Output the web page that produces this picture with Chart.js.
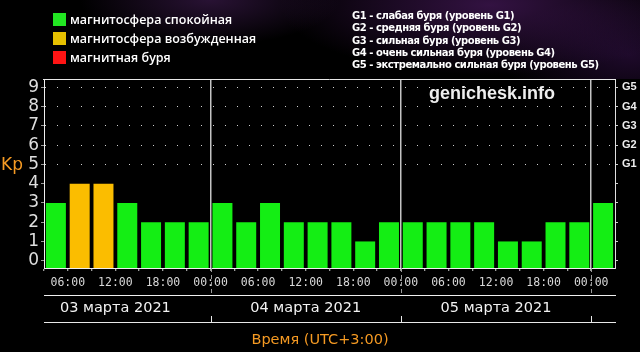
<!DOCTYPE html>
<html lang="ru">
<head>
  <meta charset="UTF-8">
  <title>Индекс Kp</title>
  <script src="https://cdn.jsdelivr.net/npm/chart.js"></script>
  <style>
    body { margin: 0; background: #000; }
    #box { position: relative; width: 640px; height: 352px; background: #000; overflow: hidden; }
    #sky {
      position: absolute; left: 0; top: 0; width: 640px; height: 79px;
      background:
        radial-gradient(ellipse 130px 45px at 210px 0px, rgba(90, 40, 115, 0.45), transparent),
        radial-gradient(ellipse 210px 70px at 490px 5px, rgba(85, 30, 110, 0.6), transparent),
        radial-gradient(ellipse 130px 60px at 630px 55px, rgba(60, 20, 85, 0.5), transparent);
    }
    canvas { position: absolute; left: 0; top: 0; }
    .item { position: absolute; left: 53px; font: 600 12.5px "Open Sans", sans-serif; color: #fff; line-height: 13px; white-space: nowrap; }
    .item span { display: inline-block; width: 13px; height: 13px; vertical-align: top; margin-right: 4px; }
    #levels { position: absolute; left: 352px; top: 10px; font: bold 10px "DejaVu Sans", sans-serif; letter-spacing: -0.45px; line-height: 12.25px; color: #fff; white-space: nowrap; }
    #mark { position: absolute; left: 429px; top: 83px; font: bold 18px "Liberation Sans", sans-serif; color: #eee; }
  </style>
</head>
<body>
<div id="box">
  <div id="sky"></div>
  <canvas id="kp" width="640" height="352"></canvas>
  <div id="legend"></div>
  <div id="levels"></div>
  <div id="mark">genichesk.info</div>
</div>

<script>
  // 3-hour periods, 03.03.2021 03:00 .. 06.03.2021 00:00 (UTC+3)
  const periods = [
    '03.03 03:00', '03.03 06:00', '03.03 09:00', '03.03 12:00', '03.03 15:00', '03.03 18:00', '03.03 21:00',
    '04.03 00:00', '04.03 03:00', '04.03 06:00', '04.03 09:00', '04.03 12:00', '04.03 15:00', '04.03 18:00', '04.03 21:00',
    '05.03 00:00', '05.03 03:00', '05.03 06:00', '05.03 09:00', '05.03 12:00', '05.03 15:00', '05.03 18:00', '05.03 21:00',
    '06.03 00:00'
  ];
  const kp = [3, 4, 4, 3, 2, 2, 2, 3, 2, 3, 2, 2, 2, 1, 2, 2, 2, 2, 2, 1, 1, 2, 2, 3];

  // hours counted from 03.03 00:00
  const markHours = [3, 6, 9, 12, 15, 18, 21, 24, 27, 30, 33, 36, 39, 42, 45, 48, 51, 54, 57, 60, 63, 66, 69, 72];
  const labelHours = [6, 12, 18, 24, 30, 36, 42, 48, 54, 60, 66, 72];
  const timeLabels = ['06:00', '12:00', '18:00', '00:00', '06:00', '12:00', '18:00', '00:00', '06:00', '12:00', '18:00', '00:00'];
  const dayCenters = [12, 36, 60];
  const dayBounds = [24, 48, 72];
  const dayLabels = ['03 марта 2021', '04 марта 2021', '05 марта 2021'];

  const kpTicks = [0, 1, 2, 3, 4, 5, 6, 7, 8, 9];
  const gLabels = ['G1', 'G2', 'G3', 'G4', 'G5'];

  const legendNames = ['магнитосфера спокойная', 'магнитосфера возбужденная', 'магнитная буря'];
  const legendColors = ['#22e622', '#e6c000', '#ff1414'];
  const levelNames = [
    'G1 - слабая буря (уровень G1)',
    'G2 - средняя буря (уровень G2)',
    'G3 - сильная буря (уровень G3)',
    'G4 - очень сильная буря (уровень G4)',
    'G5 - экстремально сильная буря (уровень G5)'
  ];
  const axisTitle = 'Время (UTC+3:00)';
  const kpTitle = 'Kp';

  const yMin = -0.38, yMax = 9.44;

  // html legend
  const legendBox = document.getElementById('legend');
  legendNames.forEach((name, i) => {
    const d = document.createElement('div');
    d.className = 'item';
    d.style.top = (13 + i * 19) + 'px';
    d.innerHTML = '<span style="background:' + legendColors[i] + '"></span>' + name;
    legendBox.appendChild(d);
  });
  document.getElementById('levels').innerHTML = levelNames.join('<br>');

  function barColor(v) {
    if (v >= 5) return '#ff1414';
    if (v >= 4) return '#fbbd00';
    return '#14ee14';
  }

  const frame = {
    id: 'frame',
    afterDraw(chart) {
      const { ctx, chartArea: a } = chart;
      const hx = chart.scales.hours;
      const days = chart.scales.days;
      const low = days.top + 27;
      ctx.save();
      ctx.lineWidth = 1;
      ctx.strokeStyle = '#e8e8e8';
      ctx.beginPath();
      ctx.moveTo(a.left - 1, a.top + 0.5);
      ctx.lineTo(a.right + 1, a.top + 0.5);
      ctx.moveTo(a.left, low + 0.5);
      ctx.lineTo(a.right + 1, low + 0.5);
      dayBounds.forEach(h => {
        const x = Math.round(hx.getPixelForValue(h)) + 0.5;
        ctx.moveTo(x, low);
        ctx.lineTo(x, low - 6);
      });
      ctx.stroke();

      ctx.setLineDash([4, 3]);
      ctx.strokeStyle = '#9a9a9a';
      ctx.beginPath();
      dayBounds.forEach(h => {
        const x = Math.round(hx.getPixelForValue(h)) + 0.5;
        ctx.moveTo(x, a.bottom);
        ctx.lineTo(x, days.top);
      });
      ctx.stroke();
      ctx.setLineDash([]);

      ctx.fillStyle = '#f59a23';
      ctx.textAlign = 'center';
      ctx.textBaseline = 'middle';
      ctx.font = '14.5px "DejaVu Sans"';
      ctx.fillText(axisTitle, 320, 340);
      ctx.font = '17px "DejaVu Sans"';
      ctx.fillText(kpTitle, 12, 166);
      ctx.restore();
    }
  };

  new Chart(document.getElementById('kp'), {
    type: 'bar',
    data: {
      labels: periods,
      datasets: [{
        data: kp,
        base: yMin,
        backgroundColor: kp.map(barColor),
        borderWidth: 0,
        barPercentage: 0.84,
        categoryPercentage: 1
      }]
    },
    options: {
      responsive: false,
      animation: false,
      layout: { padding: { top: 79, left: 0, right: 0, bottom: 0 } },
      plugins: { legend: { display: false }, tooltip: { enabled: false } },
      scales: {
        x: { display: false },
        hours: {
          type: 'linear', position: 'bottom', min: 3, max: 75, weight: 1, offset: false,
          afterBuildTicks: s => { s.ticks = markHours.map(v => ({ value: v })); },
          afterFit: s => { s.height = 27; },
          ticks: {
            autoSkip: false, maxRotation: 0, padding: 5,
            color: '#d8d8d8', font: { family: 'DejaVu Sans Mono', size: 11.5 },
            callback: v => { const i = labelHours.indexOf(v); return i < 0 ? '' : timeLabels[i]; }
          },
          grid: {
            offset: false,
            color: c => (c.tick && dayBounds.includes(c.tick.value)) ? '#c4c4c4' : 'transparent',
            lineWidth: 1.5,
            tickColor: '#d0d0d0', tickLength: 3, tickWidth: 1
          },
          border: { color: '#f0f0f0', width: 1 }
        },
        days: {
          type: 'linear', position: 'bottom', min: 3, max: 75, weight: 2, offset: false,
          afterBuildTicks: s => { s.ticks = dayCenters.map(v => ({ value: v })); },
          afterFit: s => { s.height = 57; },
          ticks: {
            autoSkip: false, maxRotation: 0, padding: 5,
            color: '#f2f2f2', font: { family: 'DejaVu Sans', size: 14.5 },
            callback: v => dayLabels[dayCenters.indexOf(v)]
          },
          grid: { offset: false, drawOnChartArea: false, drawTicks: false },
          border: { color: '#f0f0f0', width: 1 }
        },
        y: {
          position: 'left', min: yMin, max: yMax,
          afterBuildTicks: s => { s.ticks = kpTicks.map(v => ({ value: v })); },
          afterFit: s => { s.width = 44; },
          ticks: {
            autoSkip: false, padding: 2,
            color: '#dedede', font: { family: 'DejaVu Sans', size: 17 }
          },
          grid: {
            color: c => (c.tick && c.tick.value >= 5) ? '#cfcfcf' : 'transparent',
            tickColor: '#9a9a9a', tickLength: 3
          },
          border: { color: '#f0f0f0', width: 1, dash: [1, 11] }
        },
        g: {
          position: 'right', min: yMin, max: yMax,
          afterBuildTicks: s => { s.ticks = kpTicks.map(v => ({ value: v })); },
          afterFit: s => { s.width = 25; },
          ticks: {
            autoSkip: false, padding: 4,
            color: '#eeeeee', font: { family: 'Liberation Sans', size: 11, weight: 'bold' },
            callback: v => v >= 5 ? gLabels[v - 5] : ''
          },
          grid: { drawOnChartArea: false, tickColor: '#cfcfcf', tickLength: 3 },
          border: { color: '#e0e0e0', width: 1 }
        }
      }
    },
    plugins: [frame]
  });
</script>
</body>
</html>
